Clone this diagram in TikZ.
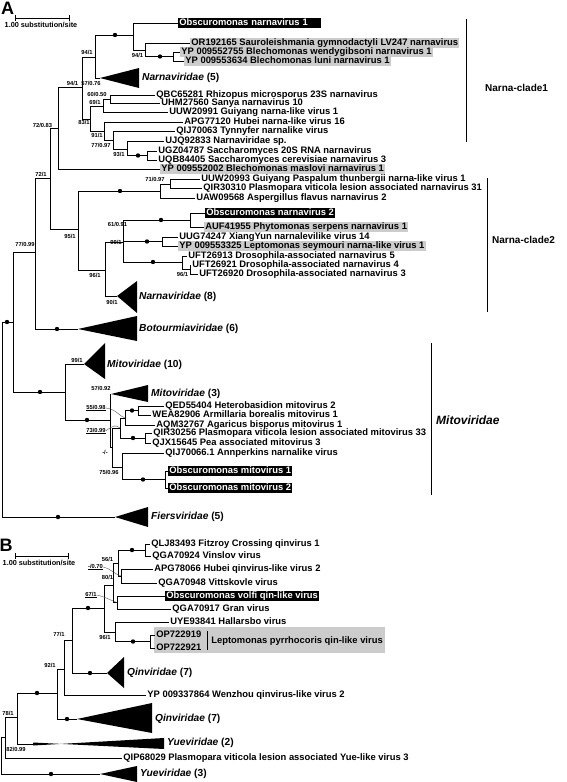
\documentclass[tikz,border=0pt]{standalone}
\usepackage{fontspec}
\setmainfont{Liberation Sans}
\begin{document}
\begin{tikzpicture}[x=1pt,y=-1pt,
  br/.style={line width=0.8pt},
  tA/.style={anchor=west, inner xsep=1.2pt, inner ysep=0.3pt, text height=6.6pt, text depth=1.9pt, font=\fontsize{9.4}{10}\selectfont\bfseries},
  tB/.style={anchor=west, inner xsep=1.2pt, inner ysep=0.3pt, text height=6.8pt, text depth=2pt, font=\fontsize{9.4}{11}\selectfont\bfseries},
  hl/.style={fill=black!20},
  bk/.style={fill=black, text=white},
  sl/.style={font=\fontsize{5.8}{6}\selectfont\bfseries, inner sep=0pt},
  dt/.style={circle, fill=black, inner sep=0pt, minimum size=4.4pt},
  cl/.style={anchor=west, inner sep=0pt, font=\fontsize{10.2}{11}\selectfont\bfseries},
  clb/.style={anchor=west, inner sep=0pt, font=\fontsize{10}{12}\selectfont\bfseries},
  tri/.style={fill=black},
  lead/.style={line width=0.35pt, black!70},
  bar/.style={line width=0.9pt}
]
\fill[white] (0,0) rectangle (566,782);
\path[use as bounding box] (0,0) rectangle (566,782);

% ================= Panel A =================
\node[inner sep=0pt, font=\fontsize{18}{18}\selectfont\bfseries] (labA) at (7.5,8) {A};
\coordinate (sa1) at (15,18); \coordinate (sa2) at (69,18);
\draw[line width=0.7pt] (sa1) -- (sa2);
\draw[line width=0.7pt] ([yshift=-3pt]sa1) -- ([yshift=3pt]sa1);
\draw[line width=0.7pt] ([yshift=-3pt]sa2) -- ([yshift=3pt]sa2);
\node[inner sep=0pt, font=\fontsize{7.3}{8}\selectfont\bfseries] (scA) at (41,25) {1.00 substitution/site};

% internal nodes
\coordinate (R) at (2,420);
\coordinate (n77) at (13,322);
\coordinate (nX) at (35,252);
\coordinate (n72) at (50,178);
\coordinate (n7283) at (58,128);
\coordinate (n94a) at (82,87);
\coordinate (n94b) at (95,57);
\coordinate (nO1) at (133,35);
\coordinate (n94c) at (145,50);
\coordinate (nBle) at (173,56.5);
\coordinate (n83) at (90,119);
\coordinate (n69) at (103,106);
\coordinate (n60) at (110,99);
\coordinate (n91) at (104,131);
\coordinate (n77b) at (113,140);
\coordinate (n93) at (127,149);
\coordinate (nSac) at (147,155.5);
\coordinate (n95) at (78,229);
\coordinate (nA) at (160,191);
\coordinate (n71) at (170,184);
\coordinate (n96) at (105,270);
\coordinate (n99) at (123,242);
\coordinate (nOb2) at (190,220);
\coordinate (nUUG) at (162,241.5);
\coordinate (nUFT) at (182,262);
\coordinate (n96b) at (190,269.5);
\coordinate (nMito) at (65,392);
\coordinate (n57) at (110,420);
\coordinate (nM) at (112,447);
\coordinate (n120) at (120,428);
\coordinate (n125) at (125,418);
\coordinate (nHet) at (138,410.5);
\coordinate (nQIR) at (145,438);
\coordinate (n75) at (122,467);
\coordinate (nObM) at (165,479.5);

% collapsed clades
\coordinate (narn5) at (100,78);
\fill[tri] (narn5) -- (139,68) -- (139,88) -- cycle;
\node[cl] (lnarn5) at (142,78) {\textit{Narnaviridae} (5)};
\coordinate (narn8) at (117,296);
\fill[tri] (narn8) -- (137,281) -- (137,313) -- cycle;
\node[cl] (lnarn8) at (139,297) {\textit{Narnaviridae} (8)};
\coordinate (bot) at (78,329);
\fill[tri] (bot) -- (137,316) -- (137,341) -- cycle;
\node[cl] (lbot) at (139,329) {\textit{Botourmiaviridae} (6)};
\coordinate (mito10) at (84,364);
\fill[tri] (mito10) -- (105,343) -- (105,379) -- cycle;
\node[cl] (lmito10) at (107,365) {\textit{Mitoviridae} (10)};
\coordinate (mito3) at (111,394);
\fill[tri] (mito3) -- (148,385) -- (148,402) -- cycle;
\node[cl] (lmito3) at (151,394) {\textit{Mitoviridae} (3)};
\coordinate (fiers) at (115,517);
\fill[tri] (fiers) -- (148,507) -- (148,527) -- cycle;
\node[cl] (lfiers) at (151,517) {\textit{Fiersviridae} (5)};

% tips
\node[tA,bk,text width=140pt,align=left] (obs1) at (178,23) {Obscuromonas narnavirus 1};
\node[tA,hl] (or) at (190,43) {OR192165 Sauroleishmania gymnodactyli LV247 narnavirus};
\node[tA,hl] (yp755) at (180,52) {YP 009552755 Blechomonas wendygibsoni narnavirus 1};
\node[tA,hl] (yp634) at (184,61) {YP 009553634 Blechomonas luni narnavirus 1};
\node[tA] (qbc) at (155,95) {QBC65281 Rhizopus microsporus 23S narnavirus};
\node[tA] (uhm) at (160,103.5) {UHM27560 Sanya narnavirus 10};
\node[tA] (uuw91) at (168,112.5) {UUW20991 Guiyang narna-like virus 1};
\node[tA] (apg) at (183,122) {APG77120 Hubei narna-like virus 16};
\node[tA] (qij) at (175,131.5) {QIJ70063 Tynnyfer narnalike virus};
\node[tA] (ujq) at (164,141.5) {UJQ92833 Narnaviridae sp.};
\node[tA] (ugz) at (157,151) {UGZ04787 Saccharomyces 20S RNA narnavirus};
\node[tA] (uqb) at (157,160) {UQB84405 Saccharomyces cerevisiae narnavirus 3};
\node[tA,hl] (yp002) at (160,169) {YP 009552002 Blechomonas maslovi narnavirus 1};
\node[tA] (uuw93) at (200,179) {UUW20993 Guiyang Paspalum thunbergii narna-like virus 1};
\node[tA] (qir310) at (202,188.5) {QIR30310 Plasmopara viticola lesion associated narnavirus 31};
\node[tA] (uaw) at (195,198) {UAW09568 Aspergillus flavus narnavirus 2};
\node[tA,bk] (obs2) at (205,213) {Obscuromonas narnavirus 2};
\node[tA,hl] (auf) at (204,227) {AUF41955 Phytomonas serpens narnavirus 1};
\node[tA] (uug) at (178,237) {UUG74247 XiangYun narnalevilike virus 14};
\node[tA,hl] (yp325) at (178,246) {YP 009553325 Leptomonas seymouri narna-like virus 1};
\node[tA] (uft13) at (187,256) {UFT26913 Drosophila-associated narnavirus 5};
\node[tA] (uft21) at (191,265) {UFT26921 Drosophila-associated narnavirus 4};
\node[tA] (uft20) at (198,274) {UFT26920 Drosophila-associated narnavirus 3};
\node[tA] (qed) at (164,406) {QED55404 Heterobasidion mitovirus 2};
\node[tA] (wea) at (151,415) {WEA82906 Armillaria borealis mitovirus 1};
\node[tA] (aqm) at (155,425) {AQM32767 Agaricus bisporus mitovirus 1};
\node[tA] (qir256) at (152,433.5) {QIR30256 Plasmopara viticola lesion associated mitovirus 33};
\node[tA] (qjx) at (151,443) {QJX15645 Pea associated mitovirus 3};
\node[tA] (qij66) at (164,453) {QIJ70066.1 Annperkins narnalike virus};
\node[tA,bk] (obm1) at (168,471) {Obscuromonas mitovirus 1};
\node[tA,bk] (obm2) at (168,488) {Obscuromonas mitovirus 2};

% branches
\draw[br] (R) |- (n77);  \draw[br] (R) |- (fiers);
\draw[br] (n77) |- (nX); \draw[br] (n77) |- (nMito);
\draw[br] (nX) |- (n72); \draw[br] (nX) |- (bot);
\draw[br] (n72) |- (n7283); \draw[br] (n72) |- (n95);
\draw[br] (n7283) |- (n94a); \draw[br] (n7283) |- (yp002.west);
\draw[br] (n94a) |- (n94b); \draw[br] (n94a) |- (n83);
\draw[br] (n94b) |- (nO1); \draw[br] (n94b) |- (narn5);
\draw[br] (nO1) |- (obs1.west); \draw[br] (nO1) |- (n94c);
\draw[br] (n94c) |- (or.west); \draw[br] (n94c) |- (nBle);
\draw[br] (nBle) |- (yp755.west); \draw[br] (nBle) |- (yp634.west);
\draw[br] (n83) |- (n69); \draw[br] (n83) |- (n91);
\draw[br] (n69) |- (n60); \draw[br] (n69) |- (uuw91.west);
\draw[br] (n60) |- (qbc.west); \draw[br] (n60) |- (uhm.west);
\draw[br] (n91) |- (apg.west); \draw[br] (n91) |- (n77b);
\draw[br] (n77b) |- (qij.west); \draw[br] (n77b) |- (n93);
\draw[br] (n93) |- (ujq.west); \draw[br] (n93) |- (nSac);
\draw[br] (nSac) |- (ugz.west); \draw[br] (nSac) |- (uqb.west);
\draw[br] (n95) |- (nA); \draw[br] (n95) |- (n96);
\draw[br] (nA) |- (n71); \draw[br] (nA) |- (uaw.west);
\draw[br] (n71) |- (uuw93.west); \draw[br] (n71) |- (qir310.west);
\draw[br] (n96) |- (n99); \draw[br] (n96) |- (narn8);
\draw[br] (n99) |- (nOb2); \draw[br] (n99) |- (nUUG); \draw[br] (n99) |- (nUFT);
\draw[br] (nOb2) |- (obs2.west); \draw[br] (nOb2) |- (auf.west);
\draw[br] (nUUG) |- (uug.west); \draw[br] (nUUG) |- (yp325.west);
\draw[br] (nUFT) |- (uft13.west); \draw[br] (nUFT) |- (n96b);
\draw[br] (n96b) |- (uft21.west); \draw[br] (n96b) |- (uft20.west);
\draw[br] (nMito) |- (mito10); \draw[br] (nMito) |- (n57);
\draw[br] (n57) |- (mito3); \draw[br] (n57) |- (nM);
\draw[br] (nM) |- (n120); \draw[br] (nM) |- (n75);
\draw[br] (n120) |- (n125); \draw[br] (n120) |- (nQIR);
\draw[br] (n125) |- (nHet); \draw[br] (n125) |- (aqm.west);
\draw[br] (nHet) |- (qed.west); \draw[br] (nHet) |- (wea.west);
\draw[br] (nQIR) |- (qir256.west); \draw[br] (nQIR) |- (qjx.west);
\draw[br] (n75) |- (qij66.west); \draw[br] (n75) |- (nObM);
\draw[br] (nObM) |- (obm1.west); \draw[br] (nObM) |- (obm2.west);

% dots
\node[dt] (da1) at (7,322) {};
\node[dt] (da2) at (57,329) {};
\node[dt] (da3) at (58,517) {};
\node[dt] (da4) at (40,392) {};
\node[dt] (da5) at (87,420) {};
\node[dt] (da6) at (115,35) {};
\node[dt] (da7) at (160,56.5) {};
\node[dt] (da8) at (138,155.5) {};
\node[dt] (da9) at (120,191) {};
\node[dt] (da10) at (161,220) {};
\node[dt] (da11) at (147,241.5) {};
\node[dt] (da12) at (153,262) {};
\node[dt] (da13) at (132,410.5) {};
\node[dt] (da14) at (133,438) {};
\node[dt] (da15) at (143,479.5) {};

% support values
\node[sl] (s1) at (87,52) {94/1};
\node[sl] (s2) at (137.5,55) {94/1};
\node[sl] (s3) at (72.5,83) {94/1};
\node[sl] (s4) at (91,83) {57/0.76};
\node[sl] (s5) at (97,94) {60/0.50};
\node[sl] (s6) at (95,102) {69/1};
\node[sl] (s7) at (42.5,125) {72/0.83};
\node[sl] (s8) at (84,122) {83/1};
\node[sl] (s9) at (97,135) {91/1};
\node[sl] (s10) at (101,145) {77/0.97};
\node[sl] (s11) at (119,154) {93/1};
\node[sl] (s12) at (41,174) {72/1};
\node[sl] (s13) at (155,179) {71/0.97};
\node[sl] (s14) at (25,244) {77/0.99};
\node[sl] (s15) at (70,236) {95/1};
\node[sl] (s16) at (117.5,224) {61/0.91};
\node[sl] (s17) at (116,242) {99/1};
\node[sl] (s18) at (95,275) {96/1};
\node[sl] (s19) at (182.5,274) {96/1};
\node[sl] (s20) at (112,302) {90/1};
\node[sl] (s21) at (77,360) {99/1};
\node[sl] (s22) at (101,388) {57/0.92};
\node[sl] (s23) at (96,408) {\underline{55/0.98}};
\node[sl] (s24) at (96,431) {\underline{73/0.99}};
\node[sl] (s25) at (105,452) {-/-};
\node[sl] (s26) at (109,472) {75/0.96};
\draw[lead] (s23.east) .. controls (116,409) and (119,416) .. (n125);
\draw[lead] (s24.east) .. controls (112,426) and (116,424) .. (n120);

% clade bars
\coordinate (c1a) at (466,19); \coordinate (c1b) at (466,142);
\draw[bar] (c1a) -- (c1b);
\node[clb] (lc1) at (485,88) {Narna-clade1};
\coordinate (c2a) at (487,178); \coordinate (c2b) at (487,312);
\draw[bar] (c2a) -- (c2b);
\node[clb] (lc2) at (492,240) {Narna-clade2};
\coordinate (c3a) at (431,343); \coordinate (c3b) at (431,495);
\draw[bar] (c3a) -- (c3b);
\node[clb, font=\fontsize{12}{13}\selectfont\bfseries\itshape] (lc3) at (436,420) {Mitoviridae};

% ================= Panel B =================
\node[inner sep=0pt, font=\fontsize{18}{18}\selectfont\bfseries] (labB) at (6,545) {B};
\coordinate (sb1) at (15,556); \coordinate (sb2) at (68,556);
\draw[line width=0.7pt] (sb1) -- (sb2);
\draw[line width=0.7pt] ([yshift=-3pt]sb1) -- ([yshift=3pt]sb1);
\draw[line width=0.7pt] ([yshift=-3pt]sb2) -- ([yshift=3pt]sb2);
\node[inner sep=0pt, font=\fontsize{7.3}{8}\selectfont\bfseries] (scB) at (39,563) {1.00 substitution/site};

\coordinate (RB) at (1,755.5);
\coordinate (n82) at (5,737);
\coordinate (n78) at (17,717);
\coordinate (n92t) at (57,693);
\coordinate (n92) at (64,669);
\coordinate (n77B) at (72,640);
\coordinate (nMid) at (104,608);
\coordinate (n80) at (113,585);
\coordinate (n56) at (118,563);
\coordinate (nQLJ) at (145,550);
\coordinate (nAPG) at (121,576);
\coordinate (nObV) at (117,602.5);
\coordinate (nUYE) at (115,632);
\coordinate (nLep) at (150,641.5);

\fill[black!20] (154,627) rectangle (385,653);
\coordinate (dv1) at (207,631); \coordinate (dv2) at (207,650);
\draw[line width=0.8pt] (dv1) -- (dv2);

\node[tB] (qlj) at (150,544) {QLJ83493 Fitzroy Crossing qinvirus 1};
\node[tB] (qga24) at (151,556) {QGA70924 Vinslov virus};
\node[tB] (apg2) at (153,569) {APG78066 Hubei qinvirus-like virus 2};
\node[tB] (qga48) at (157,583) {QGA70948 Vittskovle virus};
\node[tB,bk] (obv) at (165,596) {Obscuromonas volfi qin-like virus};
\node[tB] (gran) at (171,609) {QGA70917 Gran virus};
\node[tB] (uye) at (169,622) {UYE93841 Hallarsbo virus};
\node[tB] (op19) at (155,635) {OP722919};
\node[tB] (op21) at (155,648) {OP722921};
\node[tB] (lep) at (210,641) {Leptomonas pyrrhocoris qin-like virus};
\node[tB] (wen) at (146,695) {YP 009337864 Wenzhou qinvirus-like virus 2};
\node[tB] (qip) at (122,758) {QIP68029 Plasmopara viticola lesion associated Yue-like virus 3};

\coordinate (qinup) at (107,673);
\fill[tri] (qinup) -- (124,657) -- (124,688) -- cycle;
\node[cl] (lqinup) at (127,673) {\textit{Qinviridae} (7)};
\coordinate (qinlow) at (77,719);
\fill[tri] (qinlow) -- (152,703) -- (152,733) -- cycle;
\node[cl] (lqinlow) at (155,719) {\textit{Qinviridae} (7)};
\coordinate (yue2) at (33,744);
\fill[tri] ([yshift=-1.5pt]yue2) -- (164,738) -- (164,749) -- ([yshift=1.5pt]yue2) -- cycle;
\node[cl] (lyue2) at (167,743) {\textit{Yueviridae} (2)};
\coordinate (yue3) at (100,774);
\fill[tri] (yue3) -- (137,766) -- (137,782) -- cycle;
\node[cl] (lyue3) at (140,774) {\textit{Yueviridae} (3)};

\draw[br] (RB) |- (n82); \draw[br] (RB) |- (yue3);
\draw[br] (n82) |- (n78); \draw[br] (n82) |- (qip.west);
\draw[br] (n78) |- (n92t); \draw[br] (n78) |- (yue2);
\draw[br] (n92t) |- (n92); \draw[br] (n92t) |- (qinlow);
\draw[br] (n92) |- (n77B); \draw[br] (n92) |- (wen.west);
\draw[br] (n77B) |- (nMid); \draw[br] (n77B) |- (qinup);
\draw[br] (nMid) |- (n80); \draw[br] (nMid) |- (nUYE);
\draw[br] (n80) |- (n56); \draw[br] (n80) |- (nObV);
\draw[br] (n56) |- (nQLJ); \draw[br] (n56) |- (nAPG);
\draw[br] (nQLJ) |- (qlj.west); \draw[br] (nQLJ) |- (qga24.west);
\draw[br] (nAPG) |- (apg2.west); \draw[br] (nAPG) |- (qga48.west);
\draw[br] (nObV) |- (obv.west); \draw[br] (nObV) |- (gran.west);
\draw[br] (nUYE) |- (uye.west); \draw[br] (nUYE) |- (nLep);
\draw[br] (nLep) |- (op19.west); \draw[br] (nLep) |- (op21.west);

\node[dt] (db1) at (51,774) {};
\node[dt] (db2) at (37,693) {};
\node[dt] (db3) at (67,719) {};
\node[dt] (db4) at (88,608) {};
\node[dt] (db5) at (90,673) {};
\node[dt] (db6) at (132,550) {};
\node[dt] (db7) at (133,641.5) {};

\node[sl] (t1) at (107.5,559) {56/1};
\node[sl] (t2) at (95.5,567) {\underline{-/0.70}};
\node[sl] (t3) at (107.5,577) {80/1};
\node[sl] (t4) at (91,595) {\underline{67/1}};
\node[sl] (t5) at (59,634) {77/1};
\node[sl] (t6) at (105,637) {96/1};
\node[sl] (t7) at (50,665) {92/1};
\node[sl] (t8) at (8,713) {78/1};
\node[sl] (t9) at (16,749) {82/0.99};
\draw[lead] (t2.east) .. controls (110,568) and (114,574) .. (nAPG);
\draw[lead] (t4.east) .. controls (106,597) and (112,601) .. (nObV);
\end{tikzpicture}
\end{document}
